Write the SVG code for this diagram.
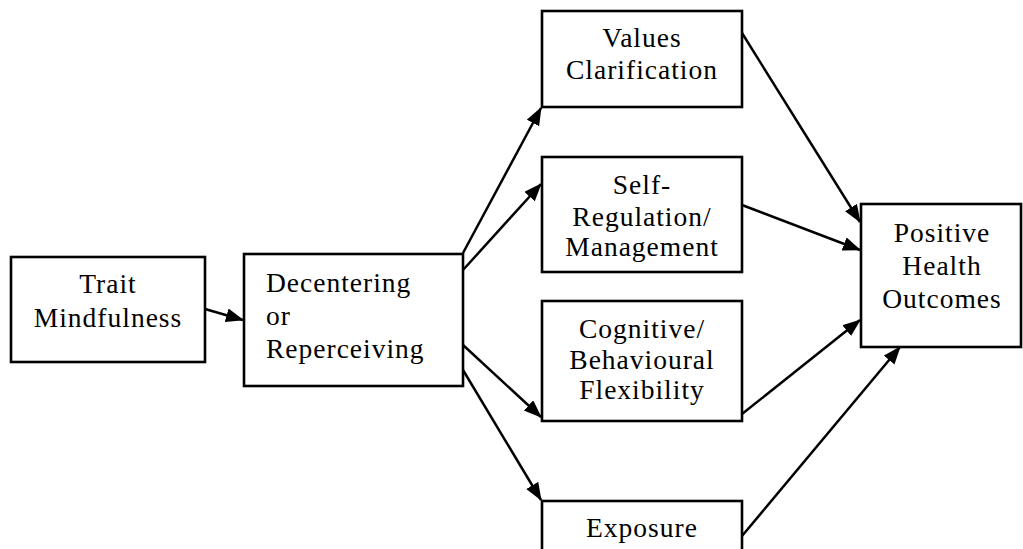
<svg xmlns="http://www.w3.org/2000/svg" width="1023" height="549" viewBox="0 0 1023 549">
<style>
.box{fill:#fff;stroke:#000;stroke-width:2.6}
.t{font-family:"Liberation Serif",serif;font-size:27.5px;fill:#000;letter-spacing:1px}
.c{text-anchor:middle}
.e{stroke:#000;stroke-width:2.5;fill:none;marker-end:url(#ah)}
</style>
<defs>
<marker id="ah" markerUnits="userSpaceOnUse" markerWidth="20" markerHeight="16" refX="17" refY="7" orient="auto">
<path d="M0,0 L18,7 L0,14 Z" fill="#000"/>
</marker>
</defs>
<rect width="1023" height="549" fill="#fff"/>
<g id="edges">
<line class="e" x1="205" y1="309" x2="243" y2="320"/>
<line class="e" x1="463" y1="253" x2="541" y2="108"/>
<line class="e" x1="463" y1="270" x2="541" y2="184"/>
<line class="e" x1="463" y1="345" x2="541" y2="417"/>
<line class="e" x1="463" y1="370" x2="541" y2="500"/>
<line class="e" x1="742" y1="33" x2="860" y2="222"/>
<line class="e" x1="742" y1="205" x2="860" y2="250"/>
<line class="e" x1="742" y1="414" x2="860" y2="320"/>
<line class="e" x1="742" y1="536" x2="900" y2="347"/>
</g>
<g id="trait">
<rect class="box" x="11" y="257" width="194" height="105"/>
<text class="t c" x="108" y="293">Trait</text>
<text class="t c" x="108" y="327">Mindfulness</text>
</g>
<g id="decentering">
<rect class="box" x="244" y="254" width="219" height="132"/>
<text class="t" x="266" y="292">Decentering</text>
<text class="t" x="266" y="325">or</text>
<text class="t" x="266" y="358">Reperceiving</text>
</g>
<g id="values">
<rect class="box" x="542" y="11" width="200" height="96"/>
<text class="t c" x="642" y="47">Values</text>
<text class="t c" x="642" y="79">Clarification</text>
</g>
<g id="selfreg">
<rect class="box" x="542" y="157" width="200" height="115"/>
<text class="t c" x="642" y="194">Self-</text>
<text class="t c" x="642" y="226">Regulation/</text>
<text class="t c" x="642" y="256">Management</text>
</g>
<g id="cognitive">
<rect class="box" x="542" y="301" width="200" height="120"/>
<text class="t c" x="642" y="338">Cognitive/</text>
<text class="t c" x="642" y="369">Behavioural</text>
<text class="t c" x="642" y="399">Flexibility</text>
</g>
<g id="exposure">
<rect class="box" x="542" y="501" width="200" height="60"/>
<text class="t c" x="642" y="537">Exposure</text>
</g>
<g id="outcomes">
<rect class="box" x="861" y="204" width="160" height="143"/>
<text class="t c" x="942" y="242">Positive</text>
<text class="t c" x="942" y="275">Health</text>
<text class="t c" x="942" y="308">Outcomes</text>
</g>
</svg>
